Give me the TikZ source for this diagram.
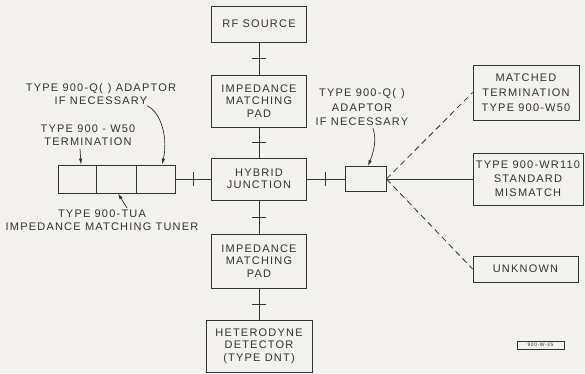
\documentclass[tikz,border=0pt]{standalone}
\usepackage{fontspec}
\setmainfont{Liberation Sans}[LetterSpace=11]
\usetikzlibrary{arrows.meta,decorations.markings,calc}
\definecolor{paper}{HTML}{F4F2EE}
\definecolor{ink}{HTML}{333333}
\tikzset{
  unit/.style={draw=ink, line width=0.8pt, align=center, inner sep=0pt, text=ink, font=\fontsize{11}{12.5}\selectfont},
  cell/.style={draw=ink, line width=0.8pt, inner sep=0pt, minimum height=28pt},
  lbl/.style={align=center, inner sep=0pt, text=ink, font=\fontsize{11}{13}\selectfont},
  wire/.style={draw=ink, line width=0.8pt},
  ticked/.style={wire, postaction={decorate}, decoration={markings, mark=at position 0.5 with {\draw[ink, line width=0.8pt] (0,-7pt) -- (0,7pt);}}},
  option/.style={wire, dash pattern=on 6pt off 4pt},
  pointer/.style={draw=ink, line width=0.7pt, -{Latex[length=6pt,width=3.5pt]}},
}
\begin{document}
\begin{tikzpicture}[x=1pt, y=-1pt]
  \fill[paper] (0,0) rectangle (585,373);
  \useasboundingbox (0,0) rectangle (585,373);

  % main chain
  \node[unit, minimum width=95pt, minimum height=36pt] (rf) at (259,24) {RF SOURCE};
  \node[unit, minimum width=95pt, minimum height=52pt] (pad1) at (259,101) {IMPEDANCE\\MATCHING\\PAD};
  \node[unit, minimum width=95pt, minimum height=42pt] (hybrid) at (259,179) {HYBRID\\JUNCTION};
  \node[unit, minimum width=95pt, minimum height=54pt] (pad2) at (259,261) {IMPEDANCE\\MATCHING\\PAD};
  \node[unit, minimum width=106pt, minimum height=52pt] (det) at (259,346) {HETERODYNE\\DETECTOR\\(TYPE DNT)};

  \draw[ticked] (rf) -- (pad1);
  \draw[ticked] (pad1) -- (hybrid);
  \draw[ticked] (hybrid) -- (pad2);
  \draw[ticked] (pad2) -- (det);

  % tuner side
  \node[cell, minimum width=38pt] (cellA) at (77,179) {};
  \node[cell, minimum width=40pt] (cellB) at (116,179) {};
  \node[cell, minimum width=39pt] (cellC) at (155.5,179) {};
  \draw[ticked] (cellC) -- (hybrid);

  \node[lbl] (lblQL) at (101,94) {TYPE 900-Q(\hspace{5pt}) ADAPTOR\\IF NECESSARY};
  \node[lbl] (lblW) at (88,135) {TYPE 900 - W50\\TERMINATION};
  \node[lbl] (lblTUA) at (102,220.5) {TYPE 900-TUA\\IMPEDANCE MATCHING TUNER};
  \draw[pointer] ($(lblQL.south)+(46,1)$) .. controls ($(lblQL.south)+(61,8)$) and ($(cellC.north)+(12.5,-25)$) .. ($(cellC.north)+(6.5,0)$);
  \draw[pointer] ($(lblW.south)+(-8,3)$) -- ($(cellA.north)+(4,0)$);
  \draw[pointer] ($(lblTUA.north)+(25,-2)$) -- ($(cellB.south)+(2,0)$);

  % load side
  \node[cell, minimum width=41pt, minimum height=25pt] (adapt) at (365.5,179) {};
  \draw[ticked] (hybrid) -- (adapt);
  \node[lbl, font=\fontsize{11}{14.5}\selectfont] (lblQR) at (362,107.5) {TYPE 900-Q(\hspace{5pt})\\ADAPTOR\\IF NECESSARY};
  \draw[pointer] ($(lblQR.south)+(11,2)$) .. controls ($(lblQR.south)+(15,14)$) and ($(adapt.north)+(8,-14)$) .. ($(adapt.north)+(2.5,0)$);

  \node[unit, minimum width=106pt, minimum height=55pt, font=\fontsize{11}{15}\selectfont] (matched) at (526,92.5) {MATCHED\\TERMINATION\\TYPE 900-W50};
  \node[unit, minimum width=110pt, minimum height=52pt, font=\fontsize{11}{14}\selectfont] (mismatch) at (528,179) {TYPE 900-WR110\\STANDARD\\MISMATCH};
  \node[unit, minimum width=105pt, minimum height=26pt] (unknown) at (525.5,269) {UNKNOWN};

  \draw[option] (adapt.east) -- (matched.west);
  \draw[wire] (adapt) -- (mismatch);
  \draw[option] (adapt.east) -- (unknown.west);

  \node[draw=ink, line width=0.5pt, inner sep=1pt, text=ink, font=\fontsize{5}{6}\selectfont, minimum width=47pt, minimum height=8pt] (code) at (540.5,345) {900-W-35};
\end{tikzpicture}
\end{document}
